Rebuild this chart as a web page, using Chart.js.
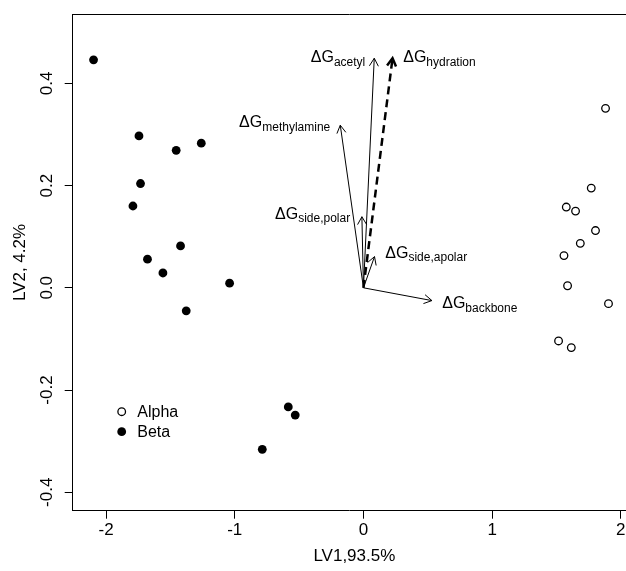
<!DOCTYPE html>
<html>
<head>
<meta charset="utf-8">
<script src="https://cdn.jsdelivr.net/npm/chart.js@4.4.1/dist/chart.umd.min.js"></script>
<style>
html,body{margin:0;padding:0;background:#fff;}
canvas{display:block;}
</style>
</head>
<body>
<canvas id="c" width="626" height="571"></canvas>
<script>
// ---- data ----
const xTickValues = [-2, -1, 0, 1, 2];
const yTickValues = [-0.4, -0.2, 0, 0.2, 0.4];
const xTickLabels = ['-2', '-1', '0', '1', '2'];
const yTickLabels = ['-0.4', '-0.2', '0.0', '0.2', '0.4'];

const alphaX = [1.881, 1.770, 1.576, 1.648, 1.803, 1.685, 1.558, 1.586, 1.904, 1.516, 1.615];
const alphaY = [0.351, 0.195, 0.158, 0.150, 0.112, 0.087, 0.063, 0.004, -0.031, -0.104, -0.117];

const betaX = [-2.097, -1.744, -1.455, -1.260, -1.732, -1.791, -1.421, -1.678, -1.558, -1.040, -1.377, -0.584, -0.530, -0.786];
const betaY = [0.446, 0.297, 0.269, 0.283, 0.204, 0.160, 0.082, 0.056, 0.029, 0.009, -0.045, -0.233, -0.249, -0.316];

const arrowNames = ['acetyl', 'hydration', 'methylamine', 'side,polar', 'side,apolar', 'backbone'];
const arrowX = [0.084, 0.226, -0.180, -0.012, 0.086, 0.532];
const arrowY = [0.449, 0.449, 0.318, 0.139, 0.061, -0.025];
// label anchors (data units) and which side of the anchor the text sits
const labelX = [0.014, 0.309, -0.258, -0.103, 0.170, 0.612];
const labelY = [0.452, 0.452, 0.325, 0.146, 0.070, -0.029];
const labelSide = ['left', 'right', 'left', 'left', 'right', 'right'];
const dashedArrow = 'hydration';

const xTitle = 'LV1,93.5%';
const yTitle = 'LV2, 4.2%';
const seriesNames = ['Alpha', 'Beta'];

// ---- chart ----
const FONT = '"Liberation Sans", Arial, Helvetica, sans-serif';

const arrowDatasets = arrowNames.map((n, i) => ({
  type: 'line',
  label: n,
  data: [{x: 0, y: 0}, {x: arrowX[i], y: arrowY[i]}],
  borderColor: '#000',
  borderWidth: n === dashedArrow ? 2.5 : 1,
  borderDash: n === dashedArrow ? [8, 5] : [],
  pointRadius: 0,
  fill: false,
  showLine: true,
  order: 2
}));

const alphaData = alphaX.map((x, i) => ({x, y: alphaY[i]}));
const betaData = betaX.map((x, i) => ({x, y: betaY[i]}));

const textPlugin = {
  id: 'rtext',
  afterDraw(chart) {
    const ctx = chart.ctx;
    const xs = chart.scales.x, ys = chart.scales.y;
    const ca = chart.chartArea;
    ctx.save();
    // top box line
    ctx.strokeStyle = '#000';
    ctx.lineWidth = 1;
    ctx.beginPath();
    ctx.moveTo(ca.left, Math.round(ca.top) + 0.5);
    ctx.lineTo(ca.right, Math.round(ca.top) + 0.5);
    ctx.stroke();

    // arrow heads
    arrowNames.forEach((n, i) => {
      const x0 = xs.getPixelForValue(0), y0 = ys.getPixelForValue(0);
      const x1 = xs.getPixelForValue(arrowX[i]), y1 = ys.getPixelForValue(arrowY[i]);
      const a = Math.atan2(y1 - y0, x1 - x0);
      const L = 9, h = Math.PI / 6;
      ctx.lineWidth = n === dashedArrow ? 2.5 : 1;
      ctx.setLineDash([]);
      ctx.beginPath();
      ctx.moveTo(x1 - L * Math.cos(a - h), y1 - L * Math.sin(a - h));
      ctx.lineTo(x1, y1);
      ctx.lineTo(x1 - L * Math.cos(a + h), y1 - L * Math.sin(a + h));
      ctx.stroke();
    });

    // arrow labels: ΔG with subscript
    ctx.fillStyle = '#000';
    ctx.textAlign = 'left';
    ctx.textBaseline = 'alphabetic';
    arrowNames.forEach((n, i) => {
      const ax = xs.getPixelForValue(labelX[i]);
      const ay = ys.getPixelForValue(labelY[i]);
      ctx.font = '16px ' + FONT;
      const wMain = ctx.measureText('\u0394G').width;
      ctx.font = '12px ' + FONT;
      const wSub = ctx.measureText(n).width;
      const total = wMain + wSub;
      const sx = labelSide[i] === 'left' ? ax - total : ax;
      const base = ay + 5.7;
      ctx.font = '16px ' + FONT;
      ctx.fillText('\u0394G', sx, base);
      ctx.font = '12px ' + FONT;
      ctx.fillText(n, sx + wMain, base + 3.5);
    });

    // axis tick labels
    ctx.font = '17px ' + FONT;
    ctx.textAlign = 'center';
    ctx.textBaseline = 'middle';
    xTickValues.forEach((v, i) => {
      ctx.fillText(xTickLabels[i], xs.getPixelForValue(v), ca.bottom + 20);
    });
    yTickValues.forEach((v, i) => {
      ctx.save();
      ctx.translate(ca.left - 25, ys.getPixelForValue(v));
      ctx.rotate(-Math.PI / 2);
      ctx.fillText(yTickLabels[i], 0, 0);
      ctx.restore();
    });
    // axis titles
    ctx.fillText(xTitle, (ca.left + ca.right) / 2 + 5, ca.bottom + 46);
    ctx.save();
    ctx.translate(20, (ca.top + ca.bottom) / 2);
    ctx.rotate(-Math.PI / 2);
    ctx.fillText(yTitle, 0, 0);
    ctx.restore();

    // legend
    ctx.font = '16px ' + FONT;
    ctx.textAlign = 'left';
    ctx.textBaseline = 'middle';
    const lx = 121.7, ly = 411.7, gap = 20;
    ctx.lineWidth = 1.3;
    ctx.beginPath();
    ctx.arc(lx, ly, 3.8, 0, Math.PI * 2);
    ctx.fillStyle = '#fff';
    ctx.fill();
    ctx.stroke();
    ctx.fillStyle = '#000';
    ctx.beginPath();
    ctx.arc(lx, ly + gap, 4.4, 0, Math.PI * 2);
    ctx.fill();
    ctx.fillText(seriesNames[0], 137.3, ly + 1);
    ctx.fillText(seriesNames[1], 137.3, ly + gap + 1);
    ctx.restore();
  }
};

new Chart(document.getElementById('c'), {
  type: 'scatter',
  data: {
    datasets: [
      ...arrowDatasets,
      {
        label: seriesNames[0],
        data: alphaData,
        pointRadius: 3.8,
        pointBackgroundColor: '#fff',
        pointBorderColor: '#000',
        pointBorderWidth: 1.3,
        showLine: false,
        order: 1
      },
      {
        label: seriesNames[1],
        data: betaData,
        pointRadius: 4.4,
        pointBackgroundColor: '#000',
        pointBorderColor: '#000',
        pointBorderWidth: 0,
        showLine: false,
        order: 1
      }
    ]
  },
  options: {
    responsive: false,
    animation: false,
    devicePixelRatio: 1,
    layout: {autoPadding: false, padding: {top: 14.3, left: 0, right: 0, bottom: 0}},
    plugins: {legend: {display: false}, tooltip: {enabled: false}},
    scales: {
      x: {
        type: 'linear',
        min: -2.259,
        max: 2.04,
        afterBuildTicks: s => { s.ticks = xTickValues.map(v => ({value: v})); },
        afterFit: s => { s.height = 60.3; },
        ticks: {display: false},
        grid: {drawOnChartArea: false, drawTicks: true, tickLength: 8, color: '#000', lineWidth: 1},
        border: {display: true, color: '#000', width: 1}
      },
      y: {
        type: 'linear',
        min: -0.436,
        max: 0.535,
        afterBuildTicks: s => { s.ticks = yTickValues.map(v => ({value: v})); },
        afterFit: s => { s.width = 72.7; },
        ticks: {display: false},
        grid: {drawOnChartArea: false, drawTicks: true, tickLength: 8, color: '#000', lineWidth: 1},
        border: {display: true, color: '#000', width: 1}
      }
    }
  },
  plugins: [textPlugin]
});
</script>
</body>
</html>
